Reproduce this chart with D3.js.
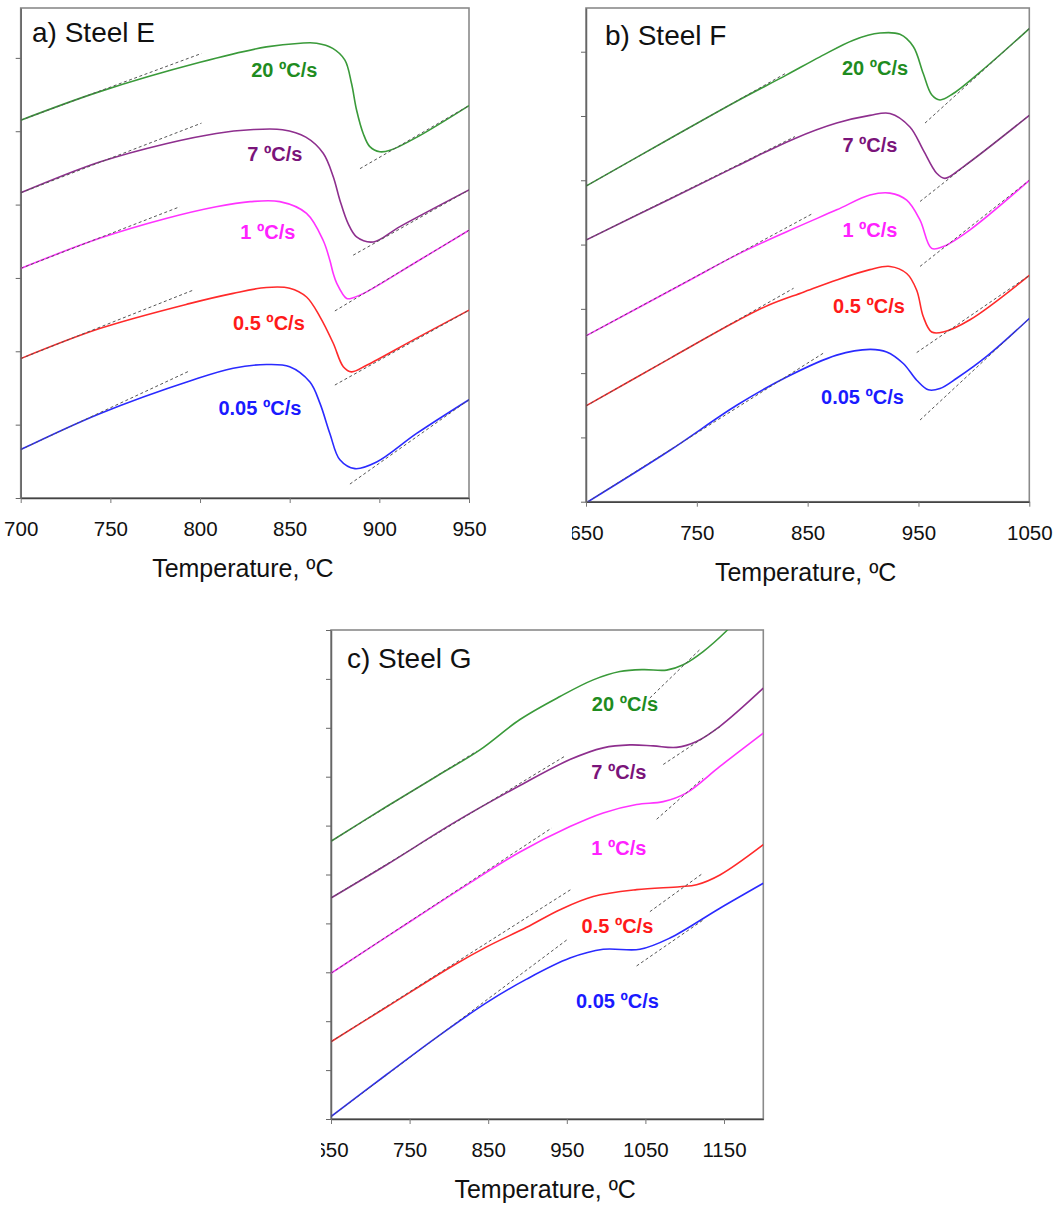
<!DOCTYPE html>
<html><head><meta charset="utf-8">
<script src="https://cdn.jsdelivr.net/npm/d3@7"></script>
<style>body{margin:0;background:#fff}svg{display:block}</style>
</head><body>
<svg id="chart" width="1059" height="1207"></svg>
<script>
// ---------- DATA ----------
const rateLabels = ["20 \u00BAC/s", "7 \u00BAC/s", "1 \u00BAC/s", "0.5 \u00BAC/s", "0.05 \u00BAC/s"];
const ticksE = [700, 750, 800, 850, 900, 950];
const ticksF = [650, 750, 850, 950, 1050];
const ticksG = [650, 750, 850, 950, 1050, 1150];

// Steel E : [temperature ºC, relative dilation (a.u.)]
const steelE_20 = [[700,5.15],[744,5.54],[800,5.94],[837,6.15],[856,6.20],[865,6.20],[874,6.13],[880.8,5.97],[884.5,5.65],[887.3,5.29],[891,4.97],[894.7,4.79],[900.3,4.72],[906,4.74],[921,4.92],[950,5.35]];
const steelE_7  = [[700,4.16],[744,4.58],[781,4.83],[809,4.97],[828,5.02],[846,5.02],[859,4.92],[868.7,4.70],[874.3,4.38],[878,4.06],[882.6,3.74],[887.3,3.56],[896.6,3.49],[911.5,3.70],[950,4.20]];
const steelE_1  = [[700,3.13],[744,3.54],[781,3.81],[809,3.97],[828,4.04],[844.5,4.04],[859.4,3.88],[868.7,3.51],[872.4,3.24],[874.3,3.06],[876.2,2.93],[881.8,2.72],[885.4,2.73],[892.9,2.81],[920.8,3.22],[950,3.65]];
const steelE_05 = [[700,1.90],[744,2.31],[794,2.65],[818.5,2.79],[837,2.87],[850,2.86],[859.4,2.74],[866.9,2.47],[874.3,2.11],[879.9,1.79],[884.5,1.72],[892.9,1.81],[920.8,2.18],[950,2.56]];
const steelE_005= [[700,0.66],[744,1.15],[796,1.61],[818.5,1.77],[837,1.82],[850,1.79],[861.3,1.58],[866.9,1.29],[872.4,0.88],[878,0.52],[886.4,0.40],[898.5,0.49],[920.8,0.88],[950,1.34]];
const steelE_tan = [
  [[700,5.15],[800.8,6.06]], [[889.2,4.49],[950,5.35]],
  [[700,4.16],[800.8,5.11]], [[885.4,3.31],[950,4.20]],
  [[700,3.13],[788.7,3.97]], [[875.2,2.55],[950,3.65]],
  [[700,1.90],[795.8,2.83]], [[875.2,1.54],[950,2.56]],
  [[700,0.66],[793.9,1.73]], [[883.6,0.19],[950,1.34]]
];

// Steel F
const steelF_20 = [[650,4.91],[725.8,5.65],[786,6.23],[831.1,6.64],[861.1,6.92],[891.2,7.18],[915.3,7.29],[933.3,7.27],[945.3,7.08],[954.3,6.66],[961.9,6.33],[969.4,6.25],[981.4,6.35],[1011.5,6.77],[1050,7.36]];
const steelF_7  = [[650,4.07],[725.8,4.71],[786,5.22],[837,5.64],[876.2,5.89],[906.2,6.01],[924.3,6.04],[942.3,5.83],[954.3,5.47],[966.4,5.11],[973.9,5.03],[990.4,5.21],[1050,6.01]];
const steelF_1  = [[650,2.58],[743.8,3.45],[786,3.84],[831.1,4.20],[876.2,4.54],[906.2,4.77],[924.3,4.80],[939.4,4.69],[951.4,4.38],[961.9,3.94],[972.4,3.97],[996.5,4.23],[1050,5.00]];
const steelF_05 = [[650,1.49],[725.8,2.23],[786,2.81],[815,3.06],[846.1,3.26],[876.2,3.45],[906.2,3.61],[924.3,3.66],[939.4,3.55],[948.4,3.29],[954.3,2.88],[961.9,2.64],[972.4,2.64],[996.5,2.83],[1050,3.52]];
const steelF_005= [[651.8,0.00],[725.8,0.80],[786,1.50],[831.1,1.94],[876.2,2.28],[906.2,2.37],[921.3,2.33],[936.3,2.15],[948.4,1.89],[958.9,1.74],[969.4,1.76],[984.5,1.92],[1011.5,2.26],[1050,2.85]];
const steelF_tan = [
  [[650,4.91],[829.8,6.66]], [[955.9,5.89],[1050,7.36]],
  [[650,4.07],[838.6,5.68]], [[951.4,4.67],[1050,6.01]],
  [[650,2.58],[855.3,4.49]], [[951.4,3.66],[1050,5.00]],
  [[650,1.49],[837.3,3.32]], [[948.4,2.32],[1050,3.52]],
  [[651.8,0.00],[864.1,2.31]], [[951.4,1.27],[1050,2.85]]
];

// Steel G
const steelG_20 = [[650,5.68],[720.8,6.39],[784.4,7.01],[839.5,7.55],[890.4,8.17],[941.3,8.64],[983.6,8.98],[1017.6,9.15],[1047.2,9.19],[1077,9.18],[1098.1,9.29],[1123.5,9.56],[1152.4,9.97],[1160,10.1]];
const steelG_7  = [[650,4.52],[720.8,5.20],[805.6,6.05],[890.4,6.82],[954,7.35],[996.3,7.59],[1030.3,7.65],[1060,7.63],[1089.7,7.60],[1115.1,7.72],[1144.8,8.03],[1200,8.81]];
const steelG_1  = [[650,2.98],[754.7,4.08],[826.8,4.83],[890.4,5.46],[954,5.98],[996.3,6.26],[1038.8,6.43],[1072.7,6.49],[1102.4,6.67],[1144.8,7.21],[1200,7.89]];
const steelG_05 = [[650,1.58],[720.8,2.29],[805.6,3.14],[848,3.52],[898.9,3.92],[941.3,4.28],[983.6,4.55],[1038.8,4.69],[1093.9,4.75],[1115.1,4.79],[1144.8,4.99],[1200,5.61]];
const steelG_005= [[650,0.05],[720.8,0.91],[784.4,1.67],[848,2.38],[898.9,2.86],[954,3.29],[996.3,3.47],[1043,3.47],[1081.2,3.70],[1144.8,4.31],[1200,4.82]];
const steelG_tan = [
  [[650,5.68],[835.3,7.52]], [[1055.7,8.61],[1119.3,9.60]],
  [[650,4.52],[947.6,7.42]], [[1072.7,7.25],[1144.8,8.02]],
  [[650,2.98],[930.7,5.95]], [[1064.3,6.13],[1123.5,6.97]],
  [[650,1.58],[954.9,4.69]], [[1055.7,4.24],[1123.5,5.03]],
  [[650,0.05],[949.8,3.66]], [[1038.8,3.13],[1123.5,4.07]]
];

// ---------- LAYOUT ----------
const lineColors  = ["#3a9a3a", "#8e2f8e", "#ff33ff", "#ff2a2a", "#2a2aff"];
const labelColors = ["#1f8c1f", "#7a147a", "#ff22ff", "#ff1a1a", "#1a1aff"];

const panels = [
  { title: "a) Steel E", left: 20.7, right: 469, top: 8, bottom: 498, clipLeft: 0,
    xDomain: [700, 950], yDomain: [0, 6.68], xTicks: ticksE, yTicks: d3.range(0, 7),
    series: [steelE_20, steelE_7, steelE_1, steelE_05, steelE_005], tangents: steelE_tan,
    labelAt: [[847,5.74],[841.7,4.60],[837.8,3.53],[838.4,2.29],[833.4,1.13]], titleX: 32, titleY: 42 },
  { title: "b) Steel F", left: 586, right: 1029.3, top: 8, bottom: 501.7, clipLeft: 572,
    xDomain: [650, 1050], yDomain: [0, 7.68], xTicks: ticksF, yTicks: d3.range(0, 8),
    series: [steelF_20, steelF_7, steelF_1, steelF_05, steelF_005], tangents: steelF_tan,
    labelAt: [[910.8,6.64],[906.2,5.44],[906.2,4.12],[905.3,2.94],[899.5,1.52]], titleX: 605, titleY: 45 },
  { title: "c) Steel G", left: 331, right: 763.3, top: 630, bottom: 1119, clipLeft: 321,
    xDomain: [650, 1200], yDomain: [0, 10], xTicks: ticksG, yTicks: d3.range(0, 11),
    series: [steelG_20, steelG_7, steelG_1, steelG_05, steelG_005], tangents: steelG_tan,
    labelAt: [[1024,8.34],[1016.3,6.96],[1016.3,5.40],[1014.4,3.80],[1014.4,2.28]], titleX: 347, titleY: 668 }
];

const svg = d3.select("#chart");
const defs = svg.append("defs");
const FONT = "'Liberation Sans', Arial, sans-serif";

panels.forEach((p, pi) => {
  const x = d3.scaleLinear().domain(p.xDomain).range([p.left, p.right]);
  const y = d3.scaleLinear().domain(p.yDomain).range([p.bottom, p.top]);

  defs.append("clipPath").attr("id", "pc" + pi).append("rect")
    .attr("x", p.clipLeft).attr("y", 0).attr("width", 1059 - p.clipLeft).attr("height", 1207);
  defs.append("clipPath").attr("id", "plot" + pi).append("rect")
    .attr("x", p.left).attr("y", p.top).attr("width", p.right - p.left).attr("height", p.bottom - p.top);

  const g = svg.append("g").attr("clip-path", `url(#pc${pi})`);

  // frame
  g.append("rect").attr("x", p.left).attr("y", p.top)
    .attr("width", p.right - p.left).attr("height", p.bottom - p.top)
    .attr("fill", "none").attr("stroke", "#8a8a8a").attr("stroke-width", 1.6);

  // x axis
  const xa = g.append("g").attr("transform", `translate(0,${p.bottom})`)
    .call(d3.axisBottom(x).tickValues(p.xTicks).tickFormat(d3.format("d"))
      .tickSize(5).tickSizeOuter(0).tickPadding(12));
  xa.select(".domain").attr("stroke", "#444").attr("stroke-width", 1.5);
  xa.selectAll(".tick line").attr("stroke", "#777");
  xa.selectAll(".tick text").attr("font-family", FONT).attr("font-size", 20.5).attr("fill", "#111")
    .attr("dy", 0).attr("y", 38);

  // y axis (unlabelled ticks)
  const ya = g.append("g").attr("transform", `translate(${p.left},0)`)
    .call(d3.axisLeft(y).tickValues(p.yTicks).tickSize(5).tickSizeOuter(0).tickFormat(""));
  ya.select(".domain").attr("stroke", "#666").attr("stroke-width", 1.5);
  ya.selectAll(".tick line").attr("stroke", "#666");

  // axis title
  g.append("text").attr("x", (p.left + p.right) / 2 - 2).attr("y", p.bottom + 79)
    .attr("text-anchor", "middle").attr("font-family", FONT).attr("font-size", 25)
    .attr("fill", "#111").text("Temperature, \u00BAC");

  // panel title
  g.append("text").attr("x", p.titleX).attr("y", p.titleY)
    .attr("font-family", FONT).attr("font-size", 28).attr("fill", "#111").text(p.title);

  const plot = g.append("g").attr("clip-path", `url(#plot${pi})`);
  const line = d3.line().x(d => x(d[0])).y(d => y(d[1])).curve(d3.curveCatmullRom.alpha(0.5));

  p.series.forEach((s, i) => {
    plot.append("path").datum(s).attr("d", line).attr("fill", "none")
      .attr("stroke", lineColors[i]).attr("stroke-width", 1.6);
  });

  const tl = d3.line().x(d => x(d[0])).y(d => y(d[1]));
  p.tangents.forEach(t => {
    plot.append("path").datum(t).attr("d", tl).attr("fill", "none")
      .attr("stroke", "#555").attr("stroke-width", 1).attr("stroke-dasharray", "3,2.5");
  });

  p.labelAt.forEach((a, i) => {
    g.append("text").attr("x", x(a[0])).attr("y", y(a[1])).attr("text-anchor", "middle")
      .attr("font-family", FONT).attr("font-weight", "bold").attr("font-size", 20)
      .attr("fill", labelColors[i]).text(rateLabels[i]);
  });
});
</script>
</body></html>
